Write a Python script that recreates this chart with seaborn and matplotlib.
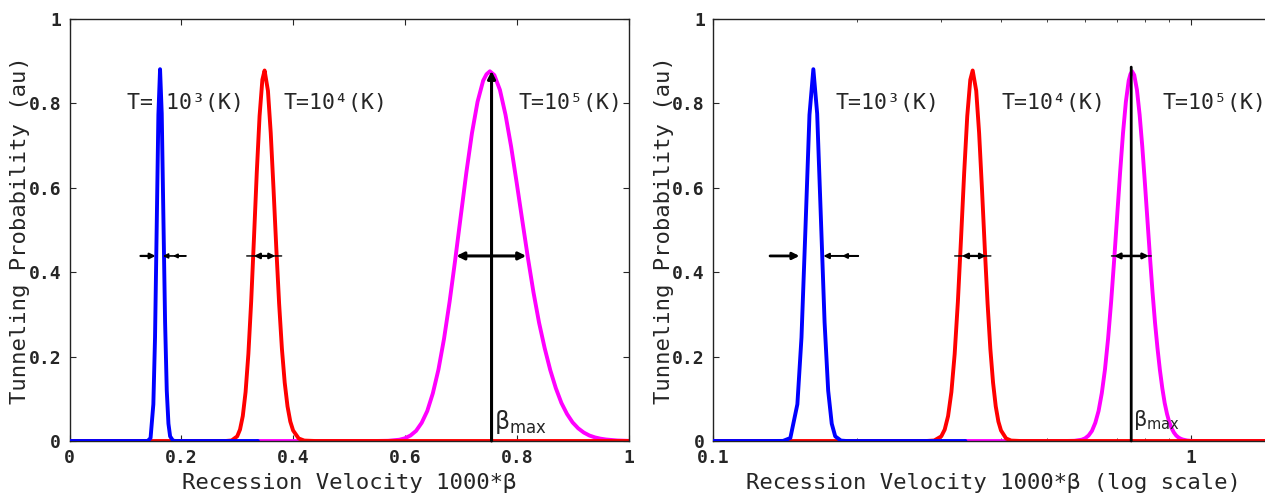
import numpy as np
import pandas as pd
import matplotlib
matplotlib.use("Agg")
import matplotlib.pyplot as plt
import seaborn as sns

# ---- data ----
blue_x = [0.0, 0.130, 0.140, 0.145, 0.150, 0.153, 0.156, 0.159, 0.162, 0.165, 0.168,
          0.171, 0.174, 0.177, 0.180, 0.185, 0.190, 0.337]
blue_y = [0, 0, 0.0002, 0.007, 0.087, 0.245, 0.507, 0.772, 0.880, 0.775, 0.527,
          0.281, 0.119, 0.041, 0.011, 0.001, 0, 0]

red_x = [0.0, 0.26, 0.28, 0.29, 0.30, 0.305, 0.31, 0.315, 0.32, 0.325, 0.33, 0.335,
         0.34, 0.345, 0.349, 0.355, 0.36, 0.365, 0.37, 0.375, 0.38, 0.385, 0.39,
         0.395, 0.40, 0.41, 0.42, 0.44, 1.5]
red_y = [0, 0, 0.0001, 0.0012, 0.011, 0.027, 0.059, 0.116, 0.206, 0.330, 0.480, 0.635,
         0.769, 0.855, 0.877, 0.829, 0.729, 0.596, 0.455, 0.325, 0.218, 0.138, 0.082,
         0.046, 0.025, 0.006, 0.001, 0, 0]

mag_x = [0.337, 0.50, 0.55, 0.57, 0.59, 0.60, 0.61, 0.62, 0.63, 0.64, 0.65, 0.66,
         0.67, 0.68, 0.69, 0.70, 0.71, 0.72, 0.73, 0.74, 0.746, 0.752, 0.76, 0.77,
         0.78, 0.79, 0.80, 0.81, 0.82, 0.83, 0.84, 0.85, 0.86, 0.87, 0.88, 0.89, 0.90,
         0.91, 0.92, 0.93, 0.94, 0.95, 0.96, 0.98, 1.00, 1.03, 1.5]
mag_y = [0, 0, 0.0001, 0.0005, 0.003, 0.0064, 0.013, 0.024, 0.043, 0.071, 0.113, 0.169,
         0.242, 0.330, 0.429, 0.533, 0.636, 0.729, 0.803, 0.853, 0.868, 0.875, 0.866, 0.831,
         0.772, 0.697, 0.611, 0.522, 0.434, 0.352, 0.280, 0.220, 0.168, 0.125, 0.090, 0.064,
         0.044, 0.030, 0.020, 0.013, 0.0085, 0.0055, 0.0035, 0.0012, 0.0003, 0, 0]

series_labels = ["T= 10³(K)", "T=10⁴(K)", "T=10⁵(K)"]
series_labels_log = ["T=10³(K)", "T=10⁴(K)", "T=10⁵(K)"]
lin_ticks = [0, 0.2, 0.4, 0.6, 0.8, 1]
lin_ticklabels = ["0", "0.2", "0.4", "0.6", "0.8", "1"]
log_ticks = [0.1, 1]
log_ticklabels = ["0.1", "1"]

# ---- style ----
sns.set_style("ticks")
plt.rcParams["font.family"] = ["DejaVu Sans Mono", "DejaVu Sans"]
plt.rcParams["axes.linewidth"] = 1.0

W, H = 1265, 497
fig = plt.figure(figsize=(W / 100, H / 100), dpi=100)
ax1 = fig.add_axes([69.5 / W, 56 / H, 559 / W, 422.5 / H])
ax2 = fig.add_axes([713.2 / W, 56 / H, (1274 - 713.2) / W, 422.5 / H])

colors = {"mag": "#ff00ff", "red": "#ff0000", "blue": "#0000ff"}
frames = [
    ("mag", pd.DataFrame({"beta": mag_x, "prob": mag_y}), 1),
    ("red", pd.DataFrame({"beta": red_x, "prob": red_y}), 2),
    ("blue", pd.DataFrame({"beta": blue_x, "prob": blue_y}), 3),
]

for ax in (ax1, ax2):
    if ax is ax2:
        ax.set_xscale("log")
    for key, df, z in frames:
        sns.lineplot(data=df, x="beta", y="prob", color=colors[key], lw=2.8,
                     estimator=None, sort=False, ax=ax, zorder=z)
    ax.set_ylim(0, 1)
    ax.set_yticks(lin_ticks)
    ax.set_yticklabels(lin_ticklabels, fontweight="bold", fontsize=13)
    ax.tick_params(axis="both", which="major", direction="in", top=True, right=True,
                   length=4, width=0.8, pad=6)
    ax.tick_params(axis="both", which="minor", direction="in", top=True, right=True,
                   length=2.5, width=0.6)
    ax.set_ylabel("Tunneling Probability (au)", fontsize=16, labelpad=-1)
    for s in ax.spines.values():
        s.set_color("#222222")

ax1.set_xlim(0, 1)
ax1.set_xticks(lin_ticks)
ax1.set_xticklabels(lin_ticklabels, fontweight="bold", fontsize=13)
ax1.set_xlabel("Recession Velocity 1000*β", fontsize=16, labelpad=4)

ax2.set_xlim(0.1, 1.49)
ax2.set_xticks(log_ticks)
ax2.set_xticklabels(log_ticklabels, fontweight="bold", fontsize=13)
ax2.xaxis.set_minor_formatter(matplotlib.ticker.NullFormatter())
ax2.set_xlabel("Recession Velocity 1000*β (log scale)", fontsize=16, labelpad=4)

# ---- labels ----
for x, lab in zip([0.102, 0.382, 0.803], series_labels):
    ax1.text(x, 0.80, lab, fontsize=15.5, ha="left", va="center", zorder=2)
for x, lab in zip([0.1804, 0.401, 0.869], series_labels_log):
    ax2.text(x, 0.80, lab, fontsize=15.5, ha="left", va="center", zorder=2)

ax1.text(0.760, 0.012, r"$\mathrm{\beta}_{\mathrm{max}}$", fontsize=17, ha="left",
         va="bottom", family="DejaVu Sans")
ax2.text(0.756, 0.022, r"$\mathrm{\beta}_{\mathrm{max}}$", fontsize=15, ha="left",
         va="bottom", family="DejaVu Sans")

# ---- arrows ----
yh = 0.438
def arrow(ax, x0, x1, style="-|>", lw=1.8, ms=10, y0=yh, y1=yh, z=5):
    ax.annotate("", xy=(x1, y1), xytext=(x0, y0),
                arrowprops=dict(arrowstyle=style, color="black", lw=lw,
                                mutation_scale=ms, shrinkA=0, shrinkB=0),
                zorder=z)

# left panel
arrow(ax1, 0.127, 0.154, lw=1.6, ms=8)
arrow(ax1, 0.208, 0.167, lw=1.2, ms=7)
arrow(ax1, 0.208, 0.185, lw=1.2, ms=6)
arrow(ax1, 0.317, 0.3795, style="-", lw=1.0)
arrow(ax1, 0.330, 0.368, style="<|-|>", lw=1.6, ms=8)
arrow(ax1, 0.692, 0.817, style="<|-|>", lw=2.2, ms=11)
arrow(ax1, 0.755, 0.755, lw=2.2, ms=11, y0=0.0, y1=0.876)

# right panel
arrow(ax2, 0.1315, 0.1515, lw=2.0, ms=10)
arrow(ax2, 0.201, 0.170, lw=1.4, ms=8)
arrow(ax2, 0.201, 0.186, lw=1.4, ms=7)
arrow(ax2, 0.320, 0.381, style="-", lw=1.0)
arrow(ax2, 0.3315, 0.372, style="<|-|>", lw=1.6, ms=8)
arrow(ax2, 0.681, 0.825, style="-", lw=1.0)
arrow(ax2, 0.690, 0.815, style="<|-|>", lw=1.8, ms=8)
arrow(ax2, 0.749, 0.749, style="-", lw=2.0, y0=0.0, y1=0.885)

fig.savefig("out.png", dpi=100)
